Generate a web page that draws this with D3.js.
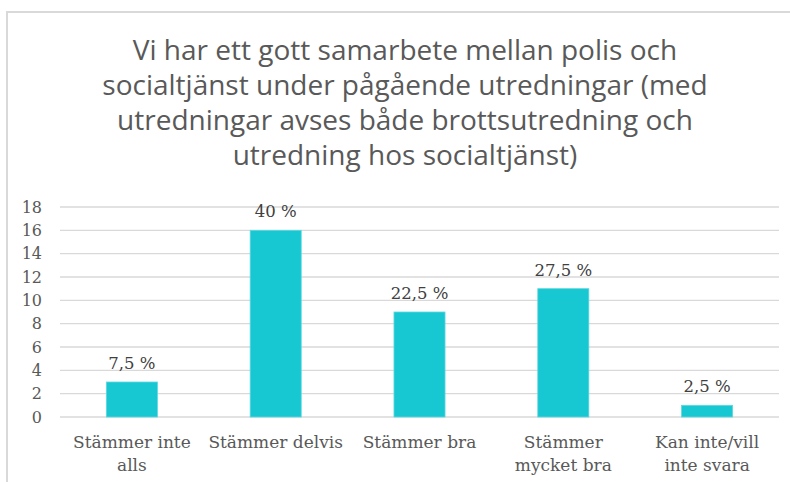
<!DOCTYPE html>
<html>
<head>
<meta charset="utf-8">
<script src="https://cdn.jsdelivr.net/npm/d3@7"></script>
<style>
  body { margin: 0; background: #fff; }
  svg { display: block; }
</style>
</head>
<body>
<div id="chart"></div>
<script>
const titleLines = [
  "Vi har ett gott samarbete mellan polis och",
  "socialtjänst under pågående utredningar (med",
  "utredningar avses både brottsutredning och",
  "utredning hos socialtjänst)"
];
const categories = [
  ["Stämmer inte", "alls"],
  ["Stämmer delvis"],
  ["Stämmer bra"],
  ["Stämmer", "mycket bra"],
  ["Kan inte/vill", "inte svara"]
];
const counts = [3, 16, 9, 11, 1];
const percentLabels = ["7,5 %", "40 %", "22,5 %", "27,5 %", "2,5 %"];
const yTicks = [0, 2, 4, 6, 8, 10, 12, 14, 16, 18];

const width = 790, height = 482;
const plot = { left: 60, right: 779, top: 207, bottom: 417 };
const textColor = "#595959";
const serif = "'DejaVu Serif', Georgia, serif";

const svg = d3.select("#chart").append("svg")
  .attr("width", width)
  .attr("height", height);

// outer chart border (cropped on right and bottom)
svg.append("rect")
  .attr("x", 7).attr("y", 12)
  .attr("width", width + 20).attr("height", height + 20)
  .attr("fill", "#fff")
  .attr("stroke", "#d9d9d9")
  .attr("stroke-width", 2);

// title
svg.append("g")
  .selectAll("text")
  .data(titleLines)
  .join("text")
  .attr("x", 405)
  .attr("y", (d, i) => 60 + i * 35)
  .attr("text-anchor", "middle")
  .attr("fill", textColor)
  .style("font-family", "'Open Sans', 'Noto Sans', sans-serif")
  .style("font-size", "28px")
  .text(d => d);

const x = d3.scaleBand()
  .domain(d3.range(categories.length))
  .range([plot.left, plot.right]);

const y = d3.scaleLinear()
  .domain([0, 18])
  .range([plot.bottom, plot.top]);

// grid lines
svg.append("g")
  .selectAll("line")
  .data(yTicks)
  .join("line")
  .attr("x1", plot.left)
  .attr("x2", plot.right)
  .attr("y1", d => y(d))
  .attr("y2", d => y(d))
  .attr("stroke", "#d9d9d9")
  .attr("stroke-width", 1.3);

// y axis labels
const yAxis = d3.axisLeft(y).tickValues(yTicks).tickSize(0).tickPadding(0);
const yG = svg.append("g")
  .attr("transform", "translate(42,0)")
  .call(yAxis);
yG.select(".domain").remove();
yG.selectAll("text")
  .attr("fill", textColor)
  .style("font-family", serif)
  .style("font-size", "16px");

// bars
const barW = x.bandwidth() * 0.355;
svg.append("g")
  .selectAll("rect")
  .data(counts)
  .join("rect")
  .attr("x", (d, i) => x(i) + (x.bandwidth() - barW) / 2)
  .attr("y", d => y(d))
  .attr("width", barW)
  .attr("height", d => y(0) - y(d))
  .attr("fill", "#17c8d2")
  .attr("stroke", "#5fd8de")
  .attr("stroke-width", 0.8);

// value labels
svg.append("g")
  .selectAll("text")
  .data(counts)
  .join("text")
  .attr("x", (d, i) => x(i) + x.bandwidth() / 2)
  .attr("y", d => y(d) - 13)
  .attr("text-anchor", "middle")
  .attr("fill", "#404040")
  .style("font-family", serif)
  .style("font-size", "16.5px")
  .text((d, i) => percentLabels[i]);

// category labels
const catG = svg.append("g")
  .selectAll("text")
  .data(categories)
  .join("text")
  .attr("text-anchor", "middle")
  .attr("fill", textColor)
  .style("font-family", serif)
  .style("font-size", "17px");
catG.selectAll("tspan")
  .data((d, i) => d.map(line => ({ line, i })))
  .join("tspan")
  .attr("x", d => x(d.i) + x.bandwidth() / 2)
  .attr("y", (d, j) => 448 + j * 23)
  .text(d => d.line);
</script>
</body>
</html>
